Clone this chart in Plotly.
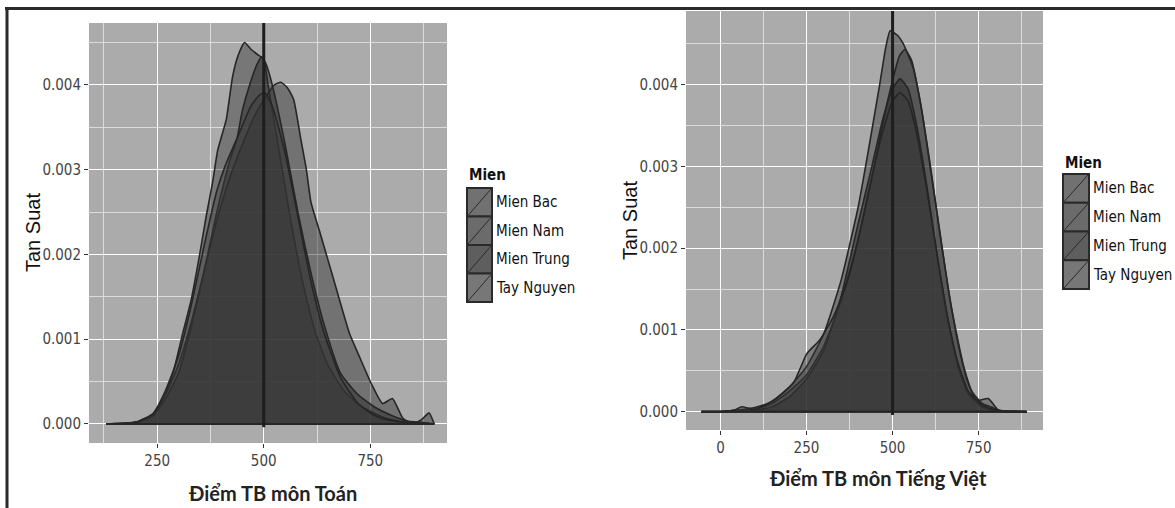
import plotly.graph_objects as go

# ---------------- DATA ----------------
regions = ["Mien Bac", "Mien Nam", "Mien Trung", "Tay Nguyen"]

# Left panel: Điểm TB môn Toán  (density values in units of 0.001)
toan_bac_x = [130, 180, 210, 240, 263, 287, 310, 330, 349, 365, 380, 392, 412, 427, 440, 455, 470, 485, 500, 510, 530, 560, 590, 620, 650, 690, 730, 780, 830, 900]
toan_bac_y = [0, 0.01, 0.03, 0.09, 0.28, 0.6, 1.07, 1.47, 1.98, 2.45, 2.85, 3.23, 3.59, 4.1, 4.35, 4.5, 4.42, 4.36, 4.3, 4.0, 3.4, 2.5, 1.7, 1.1, 0.7, 0.38, 0.2, 0.08, 0.02, 0]

toan_nam_x = [150, 200, 240, 270, 300, 330, 360, 390, 420, 450, 480, 510, 525, 540, 555, 570, 587, 600, 611, 630, 662, 701, 724, 752, 779, 802, 826, 849, 870, 888, 900]
toan_nam_y = [0, 0.02, 0.12, 0.35, 0.7, 1.2, 1.8, 2.4, 2.9, 3.3, 3.65, 3.9, 4.0, 4.03, 3.97, 3.83, 3.36, 3.0, 2.61, 2.29, 1.74, 1.07, 0.8, 0.48, 0.24, 0.3, 0.07, 0.0, 0.05, 0.13, 0]

toan_trung_x = [130, 200, 240, 270, 300, 330, 360, 390, 420, 437, 450, 470, 485, 495, 505, 520, 550, 580, 610, 640, 680, 720, 760, 800, 840, 870, 900]
toan_trung_y = [0, 0.02, 0.1, 0.3, 0.6, 1.15, 1.8, 2.5, 3.1, 3.36, 3.7, 4.05, 4.25, 4.33, 4.25, 4.0, 3.3, 2.5, 1.8, 1.2, 0.6, 0.35, 0.2, 0.1, 0.03, 0.02, 0]

toan_tay_x = [130, 200, 240, 270, 300, 330, 360, 390, 410, 440, 470, 490, 502, 520, 550, 580, 610, 640, 680, 720, 760, 800, 850, 900]
toan_tay_y = [0, 0.02, 0.12, 0.4, 0.8, 1.4, 2.1, 2.75, 3.05, 3.4, 3.75, 3.88, 3.91, 3.75, 3.2, 2.45, 1.7, 1.1, 0.55, 0.25, 0.1, 0.04, 0.01, 0]

# Right panel: Điểm TB môn Tiếng Việt
tv_bac_x = [-55, 0, 50, 100, 150, 200, 250, 300, 350, 400, 430, 463, 480, 493, 515, 531, 560, 584, 609, 638, 667, 696, 715, 744, 778, 807, 830, 890]
tv_bac_y = [0, 0, 0.02, 0.05, 0.12, 0.3, 0.55, 0.95, 1.6, 2.5, 3.2, 4.01, 4.45, 4.66, 4.6, 4.5, 4.2, 3.7, 3.0, 2.18, 1.36, 0.75, 0.4, 0.14, 0.16, 0.02, 0, 0]

tv_nam_x = [-55, 0, 50, 100, 150, 200, 250, 300, 350, 400, 440, 470, 500, 520, 536, 555, 580, 610, 640, 670, 700, 730, 760, 790, 820, 890]
tv_nam_y = [0, 0, 0.01, 0.03, 0.1, 0.25, 0.45, 0.8, 1.35, 2.1, 2.85, 3.5, 4.05, 4.35, 4.43, 4.3, 3.8, 3.0, 2.1, 1.3, 0.65, 0.25, 0.1, 0.05, 0, 0]

tv_trung_x = [-55, 0, 50, 100, 150, 200, 250, 300, 350, 400, 440, 470, 500, 522, 545, 570, 600, 630, 660, 690, 720, 760, 800, 890]
tv_trung_y = [0, 0, 0.01, 0.02, 0.06, 0.18, 0.4, 0.75, 1.4, 2.3, 3.0, 3.55, 3.95, 4.07, 3.95, 3.5, 2.75, 1.9, 1.15, 0.55, 0.22, 0.06, 0.01, 0]

tv_tay_x = [-55, 0, 40, 62, 100, 154, 212, 251, 289, 328, 367, 400, 425, 444, 470, 500, 522, 545, 570, 600, 630, 660, 690, 720, 760, 800, 890]
tv_tay_y = [0, 0, 0.02, 0.06, 0.03, 0.14, 0.35, 0.71, 0.88, 1.16, 1.57, 2.1, 2.59, 2.95, 3.4, 3.8, 3.9, 3.8, 3.4, 2.7, 1.9, 1.15, 0.6, 0.25, 0.08, 0.02, 0]

ref_score = 500
x_ticks_left = [250, 500, 750]
x_ticks_right = [0, 250, 500, 750]
y_ticks = [0, 0.001, 0.002, 0.003, 0.004]

# ---------------- STYLE ----------------
panel_bg = "#ababab"
fill_cols = ["rgba(55,55,55,0.45)", "rgba(50,50,50,0.47)", "rgba(40,40,40,0.5)", "rgba(60,60,60,0.42)"]
key_cols = ["#717171", "#6b6b6b", "#5e5e5e", "#777777"]
line_col = "#262626"
narrow = "DejaVu Sans Condensed, Liberation Sans Narrow, Arial Narrow, Liberation Sans"
tick_font = dict(family=narrow, size=15, color="#444444")

fig = go.Figure()

left_sets = [(toan_bac_x, toan_bac_y), (toan_nam_x, toan_nam_y), (toan_trung_x, toan_trung_y), (toan_tay_x, toan_tay_y)]
right_sets = [(tv_bac_x, tv_bac_y), (tv_nam_x, tv_nam_y), (tv_trung_x, tv_trung_y), (tv_tay_x, tv_tay_y)]

for axis, sets in (("", left_sets), ("2", right_sets)):
    for i, (xs, ys) in enumerate(sets):
        yv = [v / 1000 for v in ys]
        fig.add_trace(go.Scatter(
            x=xs, y=yv, mode="lines", fill="tozeroy", fillcolor=fill_cols[i],
            line=dict(color=line_col, width=1.6, shape="spline", smoothing=0.5),
            name=regions[i], showlegend=False, hoverinfo="skip",
            xaxis="x" + axis, yaxis="y" + axis,
        ))
        # baseline outline of the density polygon
        fig.add_trace(go.Scatter(
            x=[min(xs), max(xs)], y=[0, 0], mode="lines",
            line=dict(color=line_col, width=1.8), showlegend=False, hoverinfo="skip",
            xaxis="x" + axis, yaxis="y" + axis,
        ))

W, H = 1175, 508
def px(x): return x / W
def py(y): return 1 - y / H

base_axis = dict(showgrid=True, gridcolor="white", gridwidth=1.4, zeroline=False,
                 ticks="outside", ticklen=4, tickcolor="#333333", tickwidth=1,
                 tickfont=tick_font, showline=False)
minor_x = dict(showgrid=True, gridcolor="#dcdcdc", gridwidth=0.7, tick0=0, dtick=125)
minor_y = dict(showgrid=True, gridcolor="#dcdcdc", gridwidth=0.7, tick0=0, dtick=0.0005)

fig.update_layout(
    width=W, height=H, margin=dict(l=0, r=0, t=0, b=0),
    paper_bgcolor="white", plot_bgcolor=panel_bg,
    xaxis=dict(domain=[px(89), px(447)], range=[90, 930], tickvals=x_ticks_left,
               anchor="y", minor=minor_x, **base_axis),
    yaxis=dict(domain=[py(443), py(23)], range=[-0.000225, 0.00473], tickvals=y_ticks,
               tickformat=".3f", anchor="x", minor=minor_y, **base_axis),
    xaxis2=dict(domain=[px(686), px(1043)], range=[-100, 937], tickvals=x_ticks_right,
                anchor="y2", minor=minor_x, **base_axis),
    yaxis2=dict(domain=[py(430), py(11)], range=[-0.000224, 0.0049], tickvals=y_ticks,
                tickformat=".3f", anchor="x2", minor=minor_y, **base_axis),
)

shapes = []
# reference vertical lines at 500
shapes.append(dict(type="line", xref="x", yref="y", x0=ref_score, x1=ref_score, y0=-0.00004, y1=0.00473,
                   line=dict(color="#1e1e1e", width=3)))
shapes.append(dict(type="line", xref="x2", yref="y2", x0=ref_score, x1=ref_score, y0=-0.00004, y1=0.0049,
                   line=dict(color="#1e1e1e", width=3)))
# outer frame (top + left)
shapes.append(dict(type="line", xref="paper", yref="paper", x0=px(5), x1=1, y0=py(8.5), y1=py(8.5),
                   line=dict(color="#2b2b2b", width=3)))
shapes.append(dict(type="line", xref="paper", yref="paper", x0=px(7), x1=px(7), y0=0, y1=py(7),
                   line=dict(color="#2b2b2b", width=3)))

annotations = []
title_font = dict(family="Liberation Sans, Arial", size=20, color="#111111")
xt_font = dict(family="Lato, Open Sans", size=20, color="#222222")
annotations.append(dict(text="Tan Suat", textangle=-90, xref="paper", yref="paper", x=px(33), y=py(233),
                        showarrow=False, font=title_font, xanchor="center", yanchor="middle"))
annotations.append(dict(text="Tan Suat", textangle=-90, xref="paper", yref="paper", x=px(630), y=py(221),
                        showarrow=False, font=title_font, xanchor="center", yanchor="middle"))
annotations.append(dict(text="<b>Điểm TB môn Toán</b>", xref="paper", yref="paper", x=px(272), y=py(493),
                        showarrow=False, font=xt_font, xanchor="center", yanchor="middle"))
annotations.append(dict(text="<b>Điểm TB môn Tiếng Việt</b>", xref="paper", yref="paper", x=px(878), y=py(478),
                        showarrow=False, font=xt_font, xanchor="center", yanchor="middle"))

# custom legends (ggplot style)
leg_font = dict(family=narrow, size=15, color="#111111")
for (lx, ly_title, ly0, kh, kw) in ((467, 175, 188, 28.5, 25), (1063, 163, 174, 28.75, 26)):
    annotations.append(dict(text="<b>Mien</b>", xref="paper", yref="paper", x=px(lx), y=py(ly_title),
                            showarrow=False, font=dict(family=narrow, size=15, color="#111111"),
                            xanchor="left", yanchor="middle"))
    for i, name in enumerate(regions):
        y0 = ly0 + i * kh
        y1 = y0 + kh
        shapes.append(dict(type="rect", xref="paper", yref="paper", x0=px(lx), x1=px(lx + kw),
                           y0=py(y1), y1=py(y0), fillcolor=key_cols[i], line=dict(color="#2a2a2a", width=2)))
        shapes.append(dict(type="line", xref="paper", yref="paper", x0=px(lx + 1), x1=px(lx + kw - 1),
                           y0=py(y1 - 1), y1=py(y0 + 1), line=dict(color="#2a2a2a", width=1)))
        annotations.append(dict(text=name, xref="paper", yref="paper", x=px(lx + kw + 2), y=py((y0 + y1) / 2),
                                showarrow=False, font=leg_font, xanchor="left", yanchor="middle"))

fig.update_layout(shapes=shapes, annotations=annotations)
fig.write_html("out.html", config={"displayModeBar": False})

# remove the default page margin so the figure sits at the window's top-left corner
with open("out.html", encoding="utf-8") as f:
    html = f.read()
html = html.replace("<head>", "<head><style>html,body{margin:0;padding:0;overflow:hidden;}</style>", 1)
with open("out.html", "w", encoding="utf-8") as f:
    f.write(html)
